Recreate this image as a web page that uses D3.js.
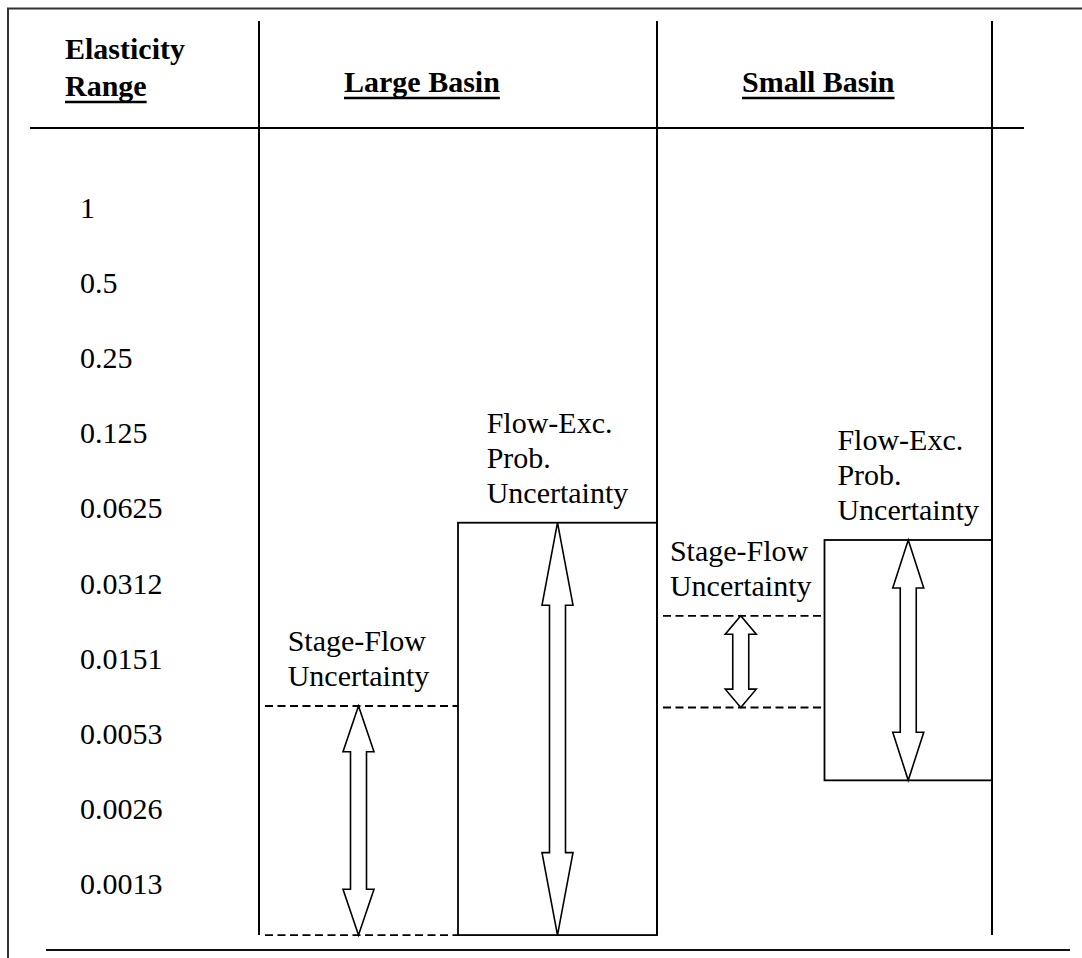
<!DOCTYPE html>
<html><head><meta charset="utf-8">
<script src="https://cdn.jsdelivr.net/npm/d3@7"></script>
<style>html,body{margin:0;padding:0;background:#fff}svg{display:block}</style>
</head><body><svg id="chart" width="1082" height="958"></svg>
<script>
// ---------- data ----------
const rowLabels = ["1","0.5","0.25","0.125","0.0625","0.0312","0.0151","0.0053","0.0026","0.0013"];
const headerTitle = ["Elasticity","Range"];
const basins = ["Large Basin","Small Basin"];
const uncertaintyTypes = ["Stage-Flow","Flow-Exc."];
const uncertaintyLabels = [["Stage-Flow","Uncertainty"],["Flow-Exc.","Prob.","Uncertainty"]];
// band extents in row units (0 = row "1", 9 = row "0.0013")
const largeBasinTop    = [6.63, 4.19];
const largeBasinBottom = [9.68, 9.68];
const smallBasinTop    = [5.43, 4.42];
const smallBasinBottom = [6.65, 7.62];

// ---------- layout ----------
const svg = d3.select("#chart");
const font = "'Liberation Serif','Times New Roman',Times,serif";
const fs = 30;
const y = d3.scaleLinear().domain([0, rowLabels.length - 1]).range([208, 884]);
const colX = d3.scaleOrdinal().domain(basins).range([[259, 657], [657, 992]]);
const tops = [largeBasinTop, smallBasinTop], bottoms = [largeBasinBottom, smallBasinBottom];

const bands = basins.flatMap((b, bi) => {
  const sub = d3.scaleBand().domain(uncertaintyTypes).range(colX(b));
  return uncertaintyTypes.map((t, ti) => ({
    basin: b, type: t, lines: uncertaintyLabels[ti],
    x0: sub(t), x1: sub(t) + sub.bandwidth(),
    top: y(tops[bi][ti]), bottom: y(bottoms[bi][ti])
  }));
});
const tableTop = 21, headerY = 128;
const tableBottom = d3.max(bands, d => d.bottom);

// outer frame
svg.append("path").attr("d", "M8,958V8.5H1082").attr("fill", "none")
  .attr("stroke", "#333").attr("stroke-width", 2);
// header and bottom rules
svg.append("line").attr("x1", 30).attr("x2", 1024).attr("y1", headerY).attr("y2", headerY)
  .attr("stroke", "#000").attr("stroke-width", 2);
svg.append("line").attr("x1", 46).attr("x2", 1070).attr("y1", 950).attr("y2", 950)
  .attr("stroke", "#111").attr("stroke-width", 2);

// stage-flow dashed bands
bands.filter(d => d.type === "Stage-Flow").forEach(d => {
  [d.top, d.bottom].forEach(yy => {
    svg.append("line").attr("x1", d.x0 + 6).attr("x2", d.x1).attr("y1", yy).attr("y2", yy)
      .attr("stroke", "#000").attr("stroke-width", 1.8).attr("stroke-dasharray", "8,4.5");
  });
});
// flow-exceedance rects
bands.filter(d => d.type === "Flow-Exc.").forEach(d => {
  svg.append("rect").attr("x", d.x0).attr("y", d.top).attr("width", d.x1 - d.x0)
    .attr("height", d.bottom - d.top).attr("fill", "none")
    .attr("stroke", "#000").attr("stroke-width", 1.8);
});

// column lines
[colX(basins[0])[0], colX(basins[0])[1], colX(basins[1])[1]].forEach(x => {
  svg.append("line").attr("x1", x).attr("x2", x).attr("y1", tableTop).attr("y2", tableBottom)
    .attr("stroke", "#000").attr("stroke-width", 2);
});

// double-headed block arrows
const hw = 15.5, sw = 8;
bands.forEach(d => {
  const cx = (d.x0 + d.x1) / 2, t = d.top, b = d.bottom, hl = 0.2 * (b - t);
  d.cx = cx;
  const p = d3.path();
  p.moveTo(cx, t); p.lineTo(cx + hw, t + hl); p.lineTo(cx + sw, t + hl);
  p.lineTo(cx + sw, b - hl); p.lineTo(cx + hw, b - hl); p.lineTo(cx, b);
  p.lineTo(cx - hw, b - hl); p.lineTo(cx - sw, b - hl); p.lineTo(cx - sw, t + hl);
  p.lineTo(cx - hw, t + hl); p.closePath();
  svg.append("path").attr("d", p.toString()).attr("fill", "#fff")
    .attr("stroke", "#000").attr("stroke-width", 1.6).attr("stroke-linejoin", "miter");
});

// band labels: left-aligned block centred over the arrow
const lineH = 35;
bands.forEach(d => {
  const n = d.lines.length;
  const g = svg.append("g");
  const ts = d.lines.map((s, i) => g.append("text")
    .attr("y", d.top - 20 - (n - 1 - i) * lineH)
    .attr("font-family", font).attr("font-size", fs).attr("fill", "#000").text(s));
  const maxW = d3.max(ts, t => t.node().getComputedTextLength());
  ts.forEach(t => t.attr("x", d.cx - maxW / 2));
});

// row labels
svg.selectAll("text.row").data(rowLabels).join("text").attr("class", "row")
  .attr("x", 80).attr("y", (d, i) => y(i) + 10)
  .attr("font-family", font).attr("font-size", fs).attr("fill", "#000").text(d => d);

// header titles
function title(txt, x, yy, ul) {
  const t = svg.append("text").attr("x", x).attr("y", yy).attr("font-family", font)
    .attr("font-size", fs).attr("font-weight", "bold").attr("fill", "#000").text(txt);
  if (ul) {
    const w = t.node().getComputedTextLength();
    svg.append("line").attr("x1", x).attr("x2", x + w).attr("y1", yy + 6).attr("y2", yy + 6)
      .attr("stroke", "#000").attr("stroke-width", 2.5);
  }
}
title(headerTitle[0], 65, 59, false);
title(headerTitle[1], 65, 96, true);
basins.forEach(b => title(b, colX(b)[0] + 85, 92, true));
</script></body></html>
